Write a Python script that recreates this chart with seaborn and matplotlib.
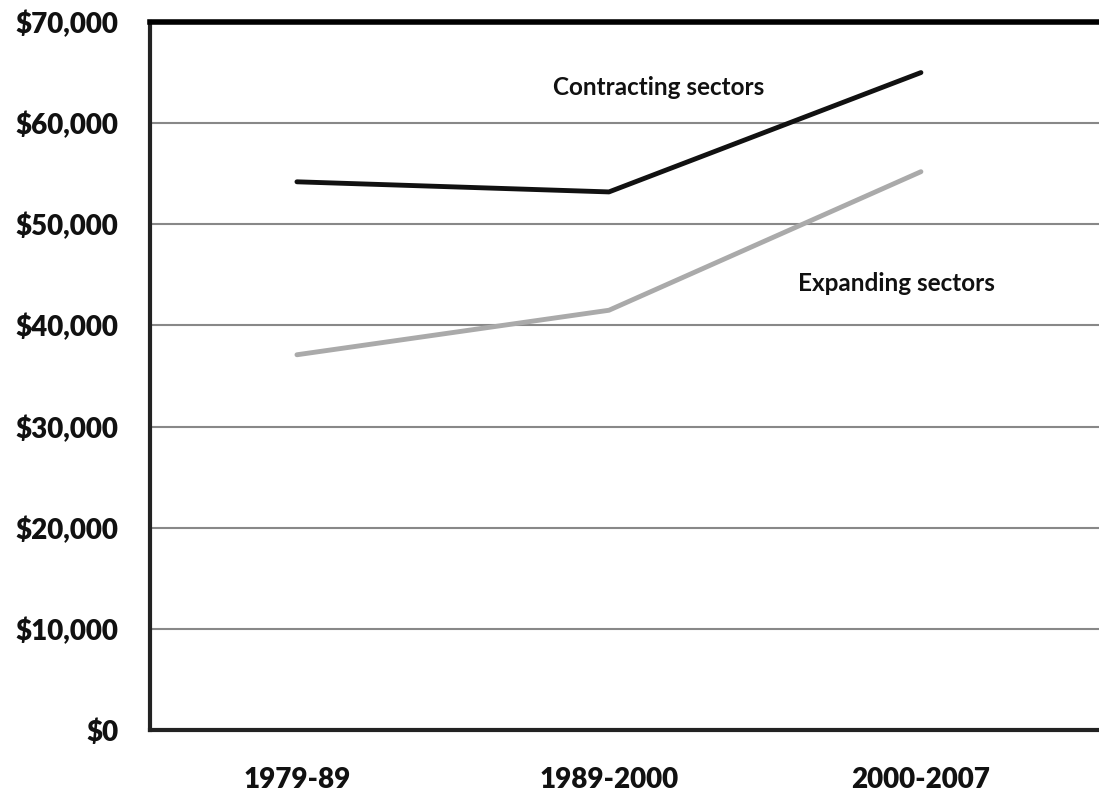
import pandas as pd
import matplotlib.pyplot as plt
import seaborn as sns

# values
periods = ["1979-89", "1989-2000", "2000-2007"]
contracting = [54200, 53200, 65000]
expanding = [37100, 41500, 55200]
y_ticks = [0, 10000, 20000, 30000, 40000, 50000, 60000, 70000]
y_labels = ["$0", "$10,000", "$20,000", "$30,000", "$40,000", "$50,000", "$60,000", "$70,000"]

sns.set_theme(style="white")
plt.rcParams["font.family"] = ["Lato", "DejaVu Sans"]

df = pd.DataFrame({
    "Period": periods * 2,
    "Wage": contracting + expanding,
    "Sector": ["Contracting sectors"] * 3 + ["Expanding sectors"] * 3,
})

fig = plt.figure(figsize=(10.99, 7.96), dpi=100)
ax = fig.add_axes([150 / 1099, 66 / 796, 955 / 1099, 708 / 796])

sns.lineplot(data=df, x="Period", y="Wage", hue="Sector", sort=False,
             palette={"Contracting sectors": "#111111", "Expanding sectors": "#aaaaaa"},
             linewidth=3.5, legend=False, ax=ax, zorder=3)

ax.set_ylim(0, 70000)
ax.set_xlim(-0.471, 2.59)
ax.set_yticks(y_ticks)
ax.set_yticklabels(y_labels)
ax.yaxis.grid(True, color="#888888", linewidth=1.5)
ax.set_axisbelow(True)

for lbl in ax.get_yticklabels() + ax.get_xticklabels():
    lbl.set_fontweight("heavy")
    lbl.set_fontsize(20)
    lbl.set_color("#111111")
ax.tick_params(axis="y", length=0, pad=23)
ax.tick_params(axis="x", length=0, pad=27)
ax.set_xlabel("")
ax.set_ylabel("")

ax.spines["top"].set_linewidth(4)
ax.spines["top"].set_color("black")
ax.spines["left"].set_linewidth(3)
ax.spines["left"].set_color("#222222")
ax.spines["bottom"].set_linewidth(3)
ax.spines["bottom"].set_color("#222222")
ax.spines["right"].set_visible(False)

ax.text(1.16, 63500, "Contracting sectors", ha="center", va="center",
        fontsize=17.5, fontweight="bold", color="#111111")
ax.text(1.92, 44100, "Expanding sectors", ha="center", va="center",
        fontsize=17.5, fontweight="bold", color="#111111")

fig.savefig("out.png", dpi=100)
plt.close(fig)
